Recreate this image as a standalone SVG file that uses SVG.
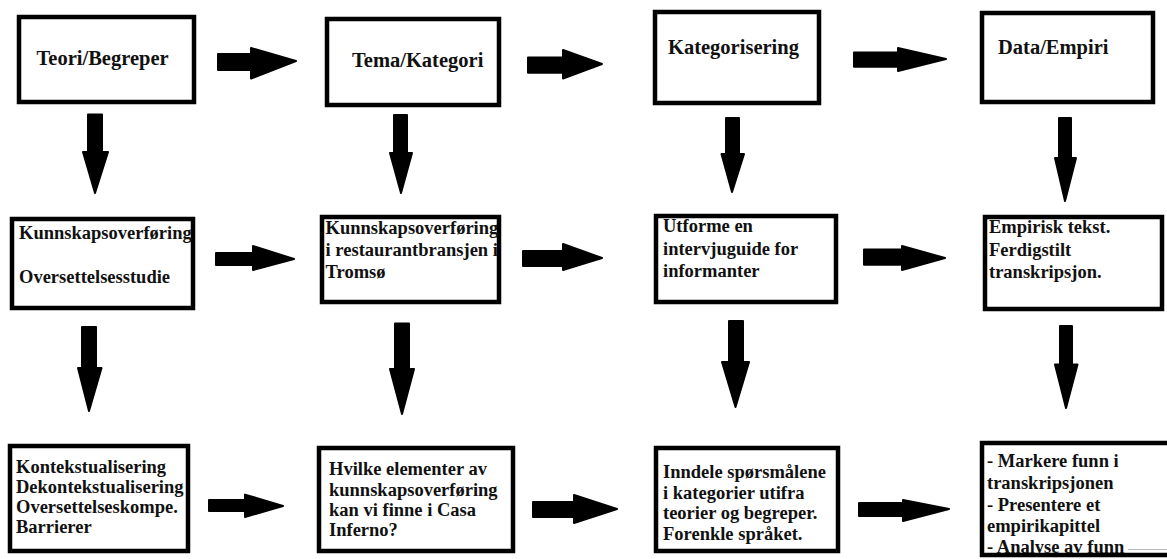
<svg xmlns="http://www.w3.org/2000/svg" width="1167" height="559" viewBox="0 0 1167 559">
<style>
.box{fill:#fff;stroke:#000;stroke-width:4.5}
.t{font-family:"Liberation Serif","Times New Roman",serif;font-weight:bold;fill:#111}
.title{font-size:20.5px}
.body{font-size:18.5px}
.arr{fill:#000;stroke:#000;stroke-width:2;stroke-linejoin:round}
</style>
<rect width="1167" height="559" fill="#fff"/>
<g id="n1"><rect class="box" x="19" y="17" width="175" height="85"/><text class="t title" x="36.5" y="65">Teori/Begreper</text></g>
<g id="n2"><rect class="box" x="327" y="19" width="172" height="86"/><text class="t title" x="352" y="67">Tema/Kategori</text></g>
<g id="n3"><rect class="box" x="655" y="12" width="164" height="91"/><text class="t title" x="668" y="54">Kategorisering</text></g>
<g id="n4"><rect class="box" x="982" y="13" width="171" height="89"/><text class="t title" x="998" y="54">Data/Empiri</text></g>
<g id="n5"><rect class="box" x="12" y="219" width="181" height="89"/><text class="t body" x="19" y="239">Kunnskapsoverføring</text><text class="t body" x="19" y="283">Oversettelsesstudie</text></g>
<g id="n6"><rect class="box" x="322" y="217" width="177" height="85"/><text class="t body"><tspan x="325.6" y="234">Kunnskapsoverføring</tspan><tspan x="325.6" y="256">i restaurantbransjen i</tspan><tspan x="325.6" y="278">Tromsø</tspan></text></g>
<g id="n7"><rect class="box" x="656" y="216" width="180" height="86"/><text class="t body"><tspan x="663" y="232">Utforme en</tspan><tspan x="663" y="254.5">intervjuguide for</tspan><tspan x="663" y="277">informanter</tspan></text></g>
<g id="n8"><rect class="box" x="985" y="217" width="177" height="92"/><text class="t body"><tspan x="989" y="233">Empirisk tekst.</tspan><tspan x="989" y="256">Ferdigstilt</tspan><tspan x="989" y="278">transkripsjon.</tspan></text></g>
<g id="n9"><rect class="box" x="10" y="446" width="178" height="105"/><text class="t body"><tspan x="16" y="473">Kontekstualisering</tspan><tspan x="16" y="493">Dekontekstualisering</tspan><tspan x="16" y="513">Oversettelseskompe.</tspan><tspan x="16" y="533">Barrierer</tspan></text></g>
<g id="n10"><rect class="box" x="319" y="448" width="194" height="103"/><text class="t body"><tspan x="329" y="475">Hvilke elementer av</tspan><tspan x="329" y="495.5">kunnskapsoverføring</tspan><tspan x="329" y="516">kan vi finne i Casa</tspan><tspan x="329" y="536">Inferno?</tspan></text></g>
<g id="n11"><rect class="box" x="656" y="448" width="182" height="103"/><text class="t body"><tspan x="663" y="478">Inndele spørsmålene</tspan><tspan x="663" y="498.5">i kategorier utifra</tspan><tspan x="663" y="519">teorier og begreper.</tspan><tspan x="663" y="539.5">Forenkle språket.</tspan></text></g>
<g id="n12"><rect class="box" x="982" y="443" width="200" height="112"/><text class="t body"><tspan x="987" y="467">- Markere funn i</tspan><tspan x="987" y="488.5">transkripsjonen</tspan><tspan x="987" y="510.5">- Presentere et</tspan><tspan x="987" y="532">empirikapittel</tspan><tspan x="987" y="553">- Analyse av funn</tspan></text></g>
<line x1="1128" y1="549.5" x2="1167" y2="549.5" stroke="#bbb" stroke-width="1"/>
<g id="connectors">
<path class="arr" d="M218 54 L251 54 L251 48 L296 61 L251 78.5 L251 70 L218 70 Z"/>
<path class="arr" d="M528 57.5 L563 57.5 L563 50 L602 64 L563 78.5 L563 72.8 L528 72.8 Z"/>
<path class="arr" d="M854 52.4 L898 52.4 L898 48 L946 59 L898 71 L898 66.7 L854 66.7 Z"/>
<path class="arr" d="M216 253 L253 253 L253 246 L294 259 L253 270 L253 265 L216 265 Z"/>
<path class="arr" d="M523 251 L563 251 L563 244 L602 258 L563 270 L563 266 L523 266 Z"/>
<path class="arr" d="M864 249.4 L902 249.4 L902 246 L945 258 L902 270 L902 264.7 L864 264.7 Z"/>
<path class="arr" d="M209 500 L245 500 L245 494.6 L283 506 L245 517 L245 511 L209 511 Z"/>
<path class="arr" d="M533 502 L574 502 L574 495 L617 509 L574 523 L574 517 L533 517 Z"/>
<path class="arr" d="M859 503 L903 503 L903 500 L949 509 L903 521 L903 516 L859 516 Z"/>
<path class="arr" d="M88 114.6 L102 114.6 L102 152 L108 152 L95 193 L83 152 L88 152 Z"/>
<path class="arr" d="M394 115 L407 115 L407 153 L412 153 L401 193 L390 153 L394 153 Z"/>
<path class="arr" d="M726 118 L739 118 L739 154 L744 154 L732 192 L721.5 154 L726 154 Z"/>
<path class="arr" d="M1059 118 L1071 118 L1071 158 L1076 158 L1065 201 L1055 158 L1059 158 Z"/>
<path class="arr" d="M82 327 L96 327 L96 368 L101.5 368 L89 411 L78 368 L82 368 Z"/>
<path class="arr" d="M395 323.6 L409 323.6 L409 369 L414 369 L402 414 L390 369 L395 369 Z"/>
<path class="arr" d="M729 321 L743 321 L743 362 L749 362 L735.5 407 L722 362 L729 362 Z"/>
<path class="arr" d="M1060 326 L1072 326 L1072 364.5 L1077.5 364.5 L1066 408 L1055 364.5 L1060 364.5 Z"/>
</g>
</svg>
